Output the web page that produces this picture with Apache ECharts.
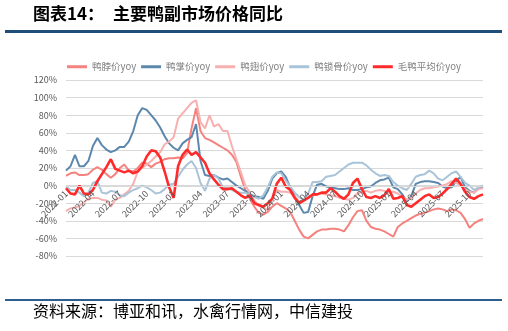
<!DOCTYPE html>
<html>
<head>
<meta charset="utf-8">
<script src="https://cdn.jsdelivr.net/npm/echarts@6/dist/echarts.min.js"></script>
<style>
html,body{margin:0;padding:0;background:#fff;}
#c{width:508px;height:331px;}
</style>
</head>
<body>
<div id="c"></div>
<script>
// Half-monthly observations, 2022-01-01 .. 2025-11-16
var categories = [];
for (var y = 2022; y <= 2025; y++) {
  for (var m = 1; m <= 12; m++) {
    var mm = (m < 10 ? '0' : '') + m;
    categories.push(y + '-' + mm + '-01');
    categories.push(y + '-' + mm + '-16');
  }
}
categories = categories.slice(0, 94);

var seriesNames = ['鸭脖价yoy', '鸭掌价yoy', '鸭翅价yoy', '鸭锁骨价yoy', '毛鸭平均价yoy'];

var duckNeck = [11,14,15,12,12,13,18,21,18,13,9,13,20,24,17,16,20,26,25,21,25,27,30,31,31,32,31,37,65,88,
  62,54,52,49,46,43,40,35,27,10,-5,-15,-24,-31,-33,-30,-24,-20,-23,-26,-30,-40,-50,-58,-60,-56,-52,-50,-50,-49,
  -49,-50,-52,-45,-36,-29,-28,-40,-47,-49,-50,-52,-55,-58,-47,-43,-40,-37,-34,-32,-31,-29,-27,-26,-27,-29,-27,-28,-31,-38,
  -48,-43,-40,-38];

var duckFeet = [17,22,35,22,22,28,45,54,46,41,38,40,44,44,50,62,80,88,86,80,74,66,56,48,43,40,48,52,55,70,
  28,12,11,12,9,7,8,4,0,-3,-6,-10,-12,-13,-15,-6,8,14,16,10,-2,-12,-22,-31,-30,-12,1,2,-1,-2,
  -3,-4,-4,-3,-5,-5,-4,-2,-1,3,6,7,9,-2,-4,-10,-18,-12,2,4,5,5,4,3,-1,-3,-2,5,10,-2,
  -6,-8,-3,-1];

var duckWing = [-29,-26,-25,-23,-19,-15,-14,-14,-16,-17,-24,-16,-14,-10,-6,2,16,20,24,28,33,38,47,50,55,76,82,88,94,97,
  72,65,80,67,70,62,62,45,30,15,0,-8,-17,-23,-25,-28,-14,-5,-7,-7,-8,-12,-18,-17,-13,-11,-10,-9,-10,-11,
  -12,-14,-15,-16,-14,-9,-7,-6,-8,-6,-5,-6,-8,-7,-9,-13,-16,-14,-9,-5,-3,-3,-2,-1,0,2,5,3,1,-4,
  -7,-8,-4,-3];

var duckCollarbone = [-1,-5,-5,-8,-12,-8,3,5,-8,-9,-6,-7,-11,-12,-8,-5,-3,0,-2,-5,-9,-8,-4,1,2,10,18,24,28,20,
  3,-6,8,12,8,-2,-3,-5,-7,-8,-8,-10,-13,-15,-11,-2,10,15,14,6,-1,-8,-13,-16,-9,4,4,5,10,11,
  12,16,20,24,26,26,26,23,18,14,11,12,11,4,0,-3,-5,2,10,12,13,17,14,8,6,10,14,16,10,3,
  0,-5,-2,0];

var liveDuck = [-3,-9,-10,0,-9,-10,-5,5,13,21,30,19,17,15,17,14,16,22,33,40,39,32,16,-2,-14,22,35,41,35,38,
  32,26,14,7,1,-4,-4,-3,-7,-11,-14,-11,-20,-22,-24,-20,-15,2,9,-1,-5,-14,-20,-17,-14,-10,-10,-8,-8,-3,
  -7,-12,-15,-10,3,8,-4,-13,-14,-12,-14,-11,-4,-15,-14,-12,-22,-24,-20,-16,-12,-10,-14,-13,-9,-4,2,8,2,-7,
  -13,-15,-12,-10];

var yTicks = {min: -80, max: 120, interval: 20};

var colors = ['#F4827F', '#5B88AC', '#F8AFAF', '#A9C4D8', '#FF2A2A'];
var widths = [2, 2, 2, 2, 2.6];
var dataList = [duckNeck, duckFeet, duckWing, duckCollarbone, liveDuck];

var chart = echarts.init(document.getElementById('c'), null, {renderer: 'canvas'});
var series = seriesNames.map(function (n, k) {
  return {
    name: n, type: 'line', data: dataList[k], symbol: 'none', smooth: false,
    lineStyle: {color: colors[k], width: widths[k]}, itemStyle: {color: colors[k]},
    z: 2 + k, animation: false
  };
});

chart.setOption({
  animation: false,
  textStyle: {fontFamily: '"Noto Sans CJK SC", "Noto Sans", sans-serif'},
  grid: {left: 66, right: 25, top: 80, bottom: 75, containLabel: false},
  legend: {
    data: seriesNames, left: 62, top: 57, icon: 'rect', itemWidth: 20, itemHeight: 3, itemGap: 5,
    textStyle: {color: '#808080', fontSize: 9.5}
  },
  xAxis: {
    type: 'category', data: categories, boundaryGap: false, position: 'bottom', offset: -70, z: 10,
    axisLine: {show: true, onZero: false, lineStyle: {color: '#D9D9D9', width: 1}},
    axisTick: {show: false},
    axisLabel: {
      interval: 5, rotate: 45, fontSize: 9, color: '#595959', margin: 6,
      formatter: function (v) { return v.slice(0, 7); }
    },
    splitLine: {show: false}
  },
  yAxis: {
    type: 'value', min: yTicks.min, max: yTicks.max, interval: yTicks.interval,
    axisLine: {show: false}, axisTick: {show: false},
    axisLabel: {formatter: '{value}%', fontSize: 9, color: '#595959', margin: 9},
    splitLine: {lineStyle: {color: '#D9D9D9', width: 1}}
  },
  graphic: [
    {type: 'text', left: 33, top: 5, style: {text: '图表14：', font: 'bold 17px "Noto Sans CJK SC"', fill: '#000'}},
    {type: 'text', left: 113, top: 5, style: {text: '主要鸭副市场价格同比', font: 'bold 17px "Noto Sans CJK SC"', fill: '#000'}},
    {type: 'rect', shape: {x: 5, y: 30, width: 497, height: 3}, style: {fill: '#1F4E79'}},
    {type: 'rect', shape: {x: 5, y: 299, width: 497, height: 2}, style: {fill: '#2E5E8E'}},
    {type: 'text', left: 33, top: 303, style: {text: '资料来源：博亚和讯，水禽行情网，中信建投', font: '16px "Noto Sans CJK SC"', fill: '#000'}}
  ],
  series: series
});
</script>
</body>
</html>
